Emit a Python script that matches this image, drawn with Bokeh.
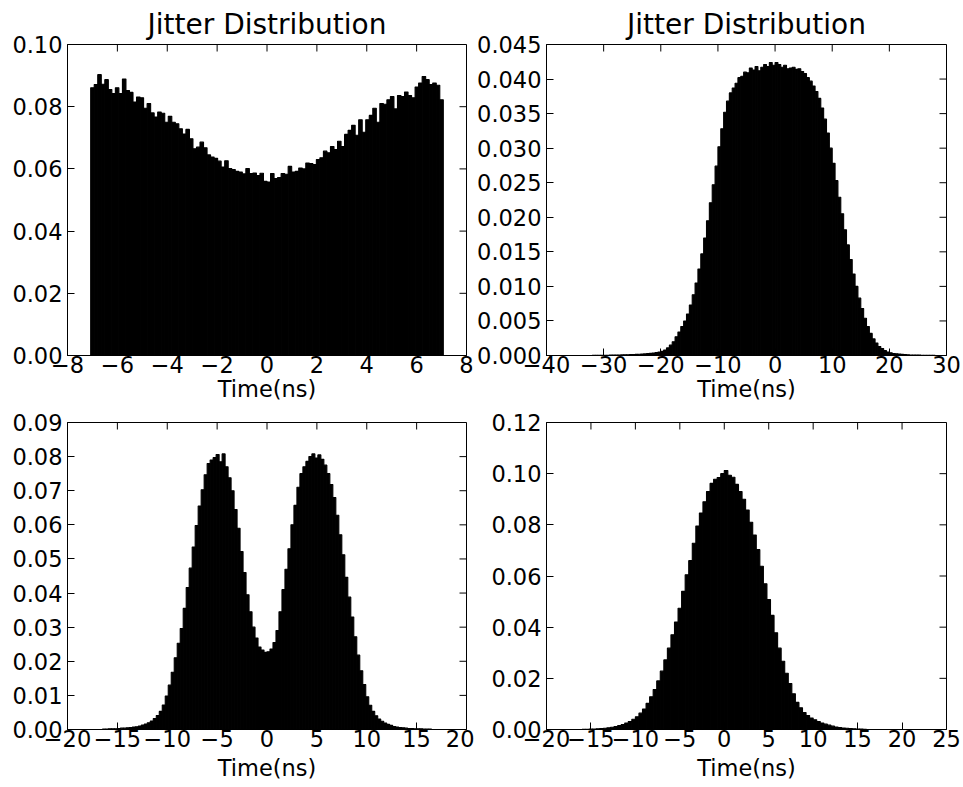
import numpy as np
from bokeh.plotting import figure
from bokeh.models import Range1d, FixedTicker
from bokeh.layouts import column, row
from bokeh.embed import file_html
from bokeh.resources import INLINE

TITLE = "Jitter Distribution"
XLABEL = "Time(ns)"

# ---------------- Panel 1 (top left) ----------------
p1_bin_start = -7.07
p1_bin_width = 0.1414
p1_heights = [
    0.0861, 0.0871, 0.0903, 0.0872, 0.0887, 0.0855, 0.0842, 0.0861, 0.0842, 0.0889,
    0.0852, 0.0846, 0.0815, 0.0831, 0.0829, 0.0795, 0.0810, 0.0780, 0.0767, 0.0783,
    0.0779, 0.0750, 0.0769, 0.0750, 0.0745, 0.0729, 0.0712, 0.0727, 0.0697, 0.0665,
    0.0670, 0.0686, 0.0668, 0.0645, 0.0638, 0.0634, 0.0625, 0.0606, 0.0626, 0.0601,
    0.0598, 0.0592, 0.0590, 0.0584, 0.0601, 0.0585, 0.0587, 0.0579, 0.0586, 0.0560,
    0.0558, 0.0585, 0.0569, 0.0572, 0.0585, 0.0583, 0.0608, 0.0590, 0.0592, 0.0603,
    0.0600, 0.0619, 0.0617, 0.0614, 0.0630, 0.0636, 0.0657, 0.0652, 0.0672, 0.0662,
    0.0689, 0.0672, 0.0711, 0.0724, 0.0740, 0.0708, 0.0758, 0.0718, 0.0758, 0.0772,
    0.0795, 0.0750, 0.0810, 0.0808, 0.0822, 0.0833, 0.0793, 0.0836, 0.0833, 0.0847,
    0.0836, 0.0829, 0.0863, 0.0876, 0.0897, 0.0887, 0.0871, 0.0876, 0.0869, 0.0822,
]
p1_xrange = (-8, 8)
p1_yrange = (0, 0.10)
p1_xticks = [-8, -6, -4, -2, 0, 2, 4, 6, 8]
p1_xlabels = ["\u22128", "\u22126", "\u22124", "\u22122", "0", "2", "4", "6", "8"]
p1_yticks = [0.0, 0.02, 0.04, 0.06, 0.08, 0.10]
p1_ylabels = ["0.00", "0.02", "0.04", "0.06", "0.08", "0.10"]

# ---------------- Panel 2 (top right) ----------------
p2_bin_start = -32.0
p2_bin_width = 0.5
p2_heights = [
    0.00002, 0.00002, 0.00003, 0.00003, 0.00004, 0.00004, 0.00005, 0.00006, 0.00007, 0.00008,
    0.00009, 0.0001, 0.00011, 0.00012, 0.00014, 0.00016, 0.00018, 0.0002, 0.00023, 0.00027,
    0.00031, 0.00036, 0.00042, 0.0005, 0.0006, 0.0008, 0.0011, 0.0015, 0.0020, 0.0027,
    0.0034, 0.0042, 0.0050, 0.0060, 0.0073, 0.0088, 0.0105, 0.0125, 0.0147, 0.0170,
    0.0195, 0.0221, 0.0247, 0.0274, 0.0302, 0.0328, 0.0352, 0.0368, 0.0380, 0.0387,
    0.0394, 0.0402, 0.0404, 0.0410, 0.0409, 0.0416, 0.0413, 0.0418, 0.0412, 0.0417,
    0.0421, 0.0418, 0.0424, 0.0420, 0.0424, 0.0421, 0.0417, 0.0420, 0.0415, 0.0416,
    0.0417, 0.0414, 0.0415, 0.0411, 0.0408, 0.0402, 0.0397, 0.0390, 0.0382, 0.0372,
    0.0358, 0.0342, 0.0322, 0.0300, 0.0278, 0.0253, 0.0229, 0.0205, 0.0182, 0.0160,
    0.0139, 0.0118, 0.0100, 0.0083, 0.0068, 0.0054, 0.0042, 0.0032, 0.0024, 0.0018,
    0.0013, 0.0010, 0.0007, 0.0005, 0.0004, 0.0003, 0.00025, 0.0002, 0.00016, 0.00013,
    0.0001, 0.00008, 0.00007, 0.00006, 0.00005, 0.00004, 0.00003, 0.00003, 0.00002, 0.00002,
]
p2_xrange = (-40, 30)
p2_yrange = (0, 0.045)
p2_xticks = [-40, -30, -20, -10, 0, 10, 20, 30]
p2_xlabels = ["\u221240", "\u221230", "\u221220", "\u221210", "0", "10", "20", "30"]
p2_yticks = [0.0, 0.005, 0.01, 0.015, 0.02, 0.025, 0.03, 0.035, 0.04, 0.045]
p2_ylabels = ["0.000", "0.005", "0.010", "0.015", "0.020", "0.025", "0.030", "0.035", "0.040", "0.045"]

# ---------------- Panel 3 (bottom left) ----------------
p3_bin_start = -16.5
p3_bin_width = 0.3
p3_heights = [
    0.0001, 0.0001, 0.0002, 0.0002, 0.0002, 0.0003, 0.0004, 0.0004, 0.0005, 0.0006,
    0.0007, 0.0008, 0.0010, 0.0013, 0.0016, 0.0020, 0.0025, 0.0032, 0.0041, 0.0053,
    0.0072, 0.0098, 0.0130, 0.0168, 0.0210, 0.0253, 0.0296, 0.0355, 0.0416, 0.0473,
    0.0535, 0.0598, 0.0655, 0.0703, 0.0747, 0.0780, 0.0790, 0.0797, 0.0806, 0.0785,
    0.0808, 0.0770, 0.0738, 0.0700, 0.0645, 0.0590, 0.0522, 0.0460, 0.0395, 0.0345,
    0.0300, 0.0268, 0.0242, 0.0233, 0.0226, 0.0228, 0.0236, 0.0255, 0.0290, 0.0345,
    0.0410, 0.0470, 0.0530, 0.0600, 0.0657, 0.0710, 0.0750, 0.0770, 0.0786, 0.0800,
    0.0808, 0.0796, 0.0805, 0.0792, 0.0775, 0.0750, 0.0718, 0.0680, 0.0628, 0.0571,
    0.0512, 0.0446, 0.0388, 0.0330, 0.0272, 0.0218, 0.0172, 0.0132, 0.0096, 0.0071,
    0.0053, 0.0040, 0.0031, 0.0024, 0.0019, 0.0015, 0.0012, 0.0009, 0.0007, 0.0006,
    0.0005, 0.0004, 0.0003, 0.0003, 0.0002, 0.0002, 0.0002, 0.0001, 0.0001, 0.0001,
]
p3_xrange = (-20, 20)
p3_yrange = (0, 0.09)
p3_xticks = [-20, -15, -10, -5, 0, 5, 10, 15, 20]
p3_xlabels = ["\u221220", "\u221215", "\u221210", "\u22125", "0", "5", "10", "15", "20"]
p3_yticks = [0.0, 0.01, 0.02, 0.03, 0.04, 0.05, 0.06, 0.07, 0.08, 0.09]
p3_ylabels = ["0.00", "0.01", "0.02", "0.03", "0.04", "0.05", "0.06", "0.07", "0.08", "0.09"]

# ---------------- Panel 4 (bottom right) ----------------
p4_bin_start = -16.0
p4_bin_width = 0.4
p4_heights = [
    0.0001, 0.0001, 0.0002, 0.0002, 0.0003, 0.0004, 0.0005, 0.0007, 0.0009, 0.0012,
    0.0015, 0.0019, 0.0025, 0.0031, 0.0040, 0.0050, 0.0064, 0.0080, 0.0102, 0.0128,
    0.0156, 0.0190, 0.0228, 0.0272, 0.0318, 0.0370, 0.0420, 0.0474, 0.0540, 0.0605,
    0.0660, 0.0728, 0.0795, 0.0846, 0.0890, 0.0930, 0.0962, 0.0978, 0.0985, 0.1000,
    0.1012, 0.0994, 0.0986, 0.0958, 0.0930, 0.0900, 0.0858, 0.0810, 0.0760, 0.0703,
    0.0638, 0.0570, 0.0508, 0.0446, 0.0378, 0.0318, 0.0267, 0.0220, 0.0180, 0.0140,
    0.0106, 0.0085, 0.0066, 0.0055, 0.0045, 0.0038, 0.0031, 0.0025, 0.0021, 0.0017,
    0.0013, 0.0010, 0.0008, 0.0006, 0.0005, 0.0004, 0.0003, 0.0002, 0.0002, 0.0001,
]
p4_xrange = (-20, 25)
p4_yrange = (0, 0.12)
p4_xticks = [-20, -15, -10, -5, 0, 5, 10, 15, 20, 25]
p4_xlabels = ["\u221220", "\u221215", "\u221210", "\u22125", "0", "5", "10", "15", "20", "25"]
p4_yticks = [0.0, 0.02, 0.04, 0.06, 0.08, 0.10, 0.12]
p4_ylabels = ["0.00", "0.02", "0.04", "0.06", "0.08", "0.10", "0.12"]

FONT = "DejaVu Sans"
TICK_FS = "22.5px"
TITLE_FS = "28px"
TICK_LEN = 7


def style_axis(ax, ticks, labels, standoff):
    ax.ticker = FixedTicker(ticks=ticks, minor_ticks=[])
    ax.major_label_overrides = dict(zip(ticks, labels))
    ax.axis_line_color = "black"
    ax.axis_line_width = 1
    ax.major_tick_line_color = "black"
    ax.major_tick_line_width = 1
    ax.major_tick_in = TICK_LEN
    ax.major_tick_out = 0
    ax.minor_tick_in = 0
    ax.minor_tick_out = 0
    ax.major_label_text_font = FONT
    ax.major_label_text_font_size = TICK_FS
    ax.major_label_text_color = "black"
    ax.major_label_standoff = standoff


def make_panel(bin_start, bin_width, heights, xr, yr, xticks, xlabels, yticks, ylabels,
               width, height, bl, br, bt, bb, label_standoff, title=None):
    p = figure(width=width, height=height,
               x_range=Range1d(*xr), y_range=Range1d(*yr),
               output_backend="svg", toolbar_location=None, tools="",
               min_border_left=bl, min_border_right=br,
               min_border_top=bt, min_border_bottom=bb,
               background_fill_color="white", border_fill_color="white")
    edges = bin_start + bin_width * np.arange(len(heights) + 1)
    p.quad(left=edges[:-1], right=edges[1:], bottom=0, top=heights,
           fill_color="black", line_color="black", line_width=1.1)
    p.xgrid.visible = False
    p.ygrid.visible = False
    p.outline_line_color = "black"
    p.outline_line_width = 1
    p.outline_line_alpha = 1

    style_axis(p.xaxis[0], xticks, xlabels, 0)
    style_axis(p.yaxis[0], yticks, ylabels, 5)
    p.xaxis[0].axis_label = XLABEL
    p.xaxis[0].axis_label_text_font = FONT
    p.xaxis[0].axis_label_text_font_size = TICK_FS
    p.xaxis[0].axis_label_text_font_style = "normal"
    p.xaxis[0].axis_label_text_color = "black"
    p.xaxis[0].axis_label_standoff = label_standoff

    # inward ticks on the top and right edges of the frame
    p.ray(x=xticks, y=[yr[1]] * len(xticks), length=TICK_LEN, length_units="screen",
          angle=-np.pi / 2, line_color="black", line_width=1)
    p.ray(x=[xr[1]] * len(yticks), y=yticks, length=TICK_LEN, length_units="screen",
          angle=np.pi, line_color="black", line_width=1)

    if title:
        p.title.text = title
        p.title.align = "center"
        p.title.text_font = FONT
        p.title.text_font_size = TITLE_FS
        p.title.text_font_style = "normal"
        p.title.text_color = "black"
        p.title.standoff = 8
    return p


p1 = make_panel(p1_bin_start, p1_bin_width, p1_heights, p1_xrange, p1_yrange,
                p1_xticks, p1_xlabels, p1_yticks, p1_ylabels,
                474, 408, 67, 8, 44, 53, 0, TITLE)
p2 = make_panel(p2_bin_start, p2_bin_width, p2_heights, p2_xrange, p2_yrange,
                p2_xticks, p2_xlabels, p2_yticks, p2_ylabels,
                489, 408, 72, 17, 44, 53, 0, TITLE)
p3 = make_panel(p3_bin_start, p3_bin_width, p3_heights, p3_xrange, p3_yrange,
                p3_xticks, p3_xlabels, p3_yticks, p3_ylabels,
                474, 379, 67, 8, 14, 58, 5)
p4 = make_panel(p4_bin_start, p4_bin_width, p4_heights, p4_xrange, p4_yrange,
                p4_xticks, p4_xlabels, p4_yticks, p4_ylabels,
                489, 379, 72, 17, 14, 58, 5)

layout = column(row(p1, p2), row(p3, p4))

open("out.html", "w").write(file_html(layout, INLINE))
